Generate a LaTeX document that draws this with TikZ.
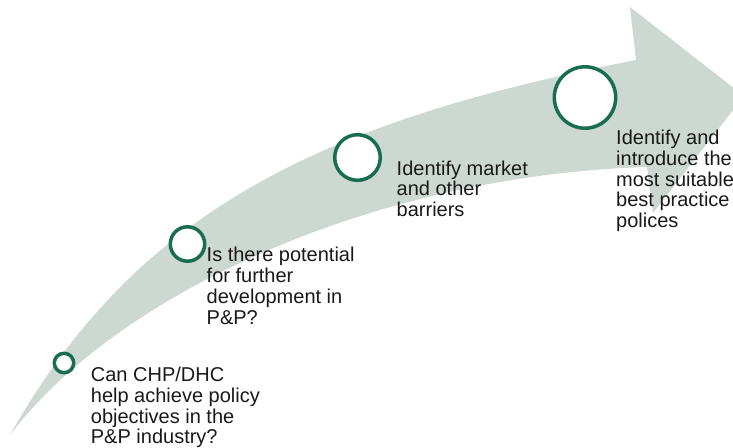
\documentclass[tikz,border=0pt]{standalone}
\usepackage{fontspec}
\setmainfont{Liberation Sans}
\usepackage{tikz}
\usetikzlibrary{shadows}
\definecolor{bandgray}{RGB}{205,216,210}
\definecolor{ringgreen}{RGB}{24,110,78}
\definecolor{textblack}{RGB}{25,25,25}

\begin{document}
\begin{tikzpicture}[
  x=1pt, y=-1pt,
  every node/.style={font=\fontsize{20}{20.8}\selectfont, text=textblack},
  milestone/.style={draw=ringgreen, fill=white, circle, line width=3.5pt,
                    inner sep=0pt,
                    drop shadow={opacity=0.3, shadow xshift=1pt, shadow yshift=-1.5pt}},
  caption/.style={anchor=base west, align=left, inner sep=0pt}
]
  \useasboundingbox (0,0) rectangle (733,447);
  \clip (0,0) rectangle (733,447);

  % curved band with its head
  \fill[bandgray] (10,435) .. controls (140,205) and (330,120) .. (636,60)
    -- (630,7) -- (744,96) -- (653,213) -- (647,167)
    .. controls (380,175) and (120,290) .. (10,435) -- cycle;

  \node[milestone, minimum size=19.4pt] (ring1) at (64,363)   {};
  \node[milestone, minimum size=34.4pt] (ring2) at (187.5,244) {};
  \node[milestone, minimum size=45.6pt] (ring3) at (357.5,157.5) {};
  \node[milestone, minimum size=61.4pt] (ring4) at (585,97.5) {};

  % anchors sit on the last line
  \node[caption] (text1) at (90.7,443.9) {Can CHP/DHC\\help achieve policy\\objectives in the\\P\&P industry?};
  \node[caption] (text2) at (206.5,324.1) {Is there potential\\for further\\development in\\P\&P?};
  \node[caption] (text3) at (396.5,216.6) {Identify market\\and other\\barriers};
  \node[caption] (text4) at (616,227.7) {Identify and\\introduce the\\most suitable\\best practice\\polices};
\end{tikzpicture}
\end{document}
